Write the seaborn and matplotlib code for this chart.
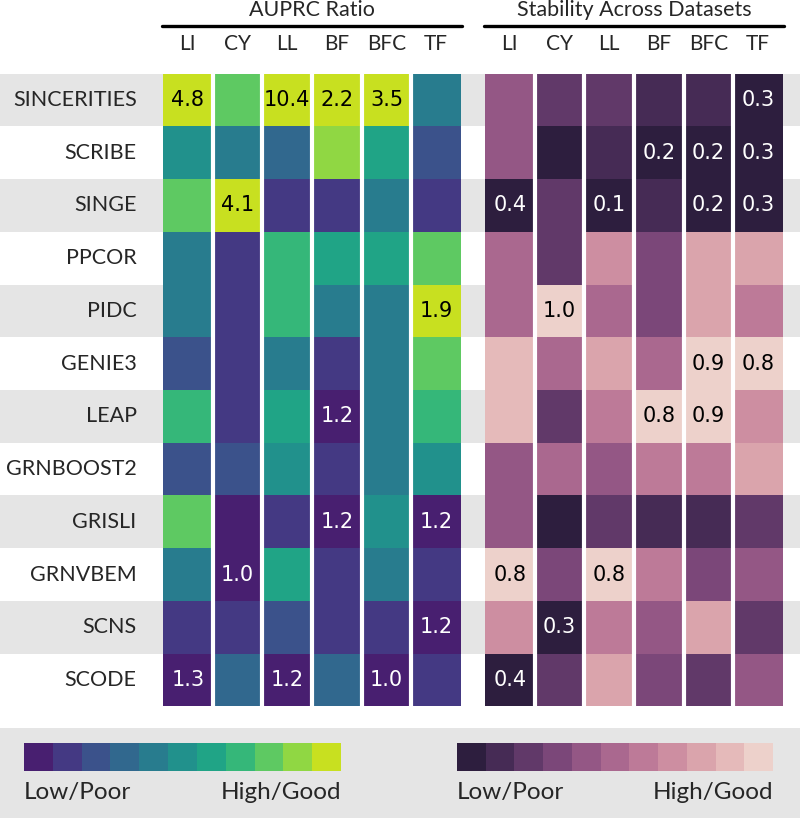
import numpy as np
import pandas as pd
import matplotlib
matplotlib.use("Agg")
import matplotlib.pyplot as plt
from matplotlib.colors import ListedColormap
from matplotlib.patches import Rectangle
from matplotlib.lines import Line2D
import seaborn as sns

sns.set_theme(style="white")
plt.rcParams["font.family"] = ["Lato", "DejaVu Sans"]

algorithms = ["SINCERITIES", "SCRIBE", "SINGE", "PPCOR", "PIDC", "GENIE3",
              "LEAP", "GRNBOOST2", "GRISLI", "GRNVBEM", "SCNS", "SCODE"]
datasets = ["LI", "CY", "LL", "BF", "BFC", "TF"]

# colour level (0 = Low/Poor ... 10 = High/Good) read from each cell
auprc_level = [
    [10, 8, 10, 10, 10, 4],
    [5, 4, 3, 9, 6, 2],
    [8, 10, 1, 1, 4, 1],
    [4, 1, 7, 6, 6, 8],
    [4, 1, 7, 4, 4, 10],
    [2, 1, 4, 1, 4, 8],
    [7, 1, 6, 0, 4, 7],
    [2, 2, 5, 1, 4, 5],
    [8, 0, 1, 0, 5, 0],
    [4, 0, 6, 1, 4, 1],
    [1, 1, 2, 1, 1, 0],
    [0, 3, 0, 3, 0, 1],
]
auprc_text = [
    ["4.8", "", "10.4", "2.2", "3.5", ""],
    ["", "", "", "", "", ""],
    ["", "4.1", "", "", "", ""],
    ["", "", "", "", "", ""],
    ["", "", "", "", "", "1.9"],
    ["", "", "", "", "", ""],
    ["", "", "", "1.2", "", ""],
    ["", "", "", "", "", ""],
    ["", "", "", "1.2", "", "1.2"],
    ["", "1.0", "", "", "", ""],
    ["", "", "", "", "", "1.2"],
    ["1.3", "", "1.2", "", "1.0", ""],
]
stab_level = [
    [4, 2, 2, 1, 1, 0],
    [4, 0, 1, 0, 0, 0],
    [0, 2, 0, 1, 0, 0],
    [5, 2, 7, 3, 8, 8],
    [5, 10, 5, 3, 8, 6],
    [9, 5, 8, 5, 10, 10],
    [9, 2, 6, 10, 10, 7],
    [4, 5, 4, 6, 6, 8],
    [4, 0, 2, 1, 1, 2],
    [10, 3, 10, 6, 3, 4],
    [7, 0, 6, 4, 8, 2],
    [0, 2, 8, 3, 2, 4],
]
stab_text = [
    ["", "", "", "", "", "0.3"],
    ["", "", "", "0.2", "0.2", "0.3"],
    ["0.4", "", "0.1", "", "0.2", "0.3"],
    ["", "", "", "", "", ""],
    ["", "1.0", "", "", "", ""],
    ["", "", "", "", "0.9", "0.8"],
    ["", "", "", "0.8", "0.9", ""],
    ["", "", "", "", "", ""],
    ["", "", "", "", "", ""],
    ["0.8", "", "0.8", "", "", ""],
    ["", "0.3", "", "", "", ""],
    ["0.4", "", "", "", "", ""],
]
titles = ["AUPRC Ratio", "Stability Across Datasets"]
legend_labels = ["Low/Poor", "High/Good"]

pal1 = sns.color_palette("viridis", 11)
pal2 = sns.cubehelix_palette(11, reverse=True)

W, H = 800, 818
fig = plt.figure(figsize=(W / 100, H / 100), dpi=100)

def fx(x):
    return x / W

def fy(y):
    return 1 - y / H

# background bands
bg = fig.add_axes([0, 0, 1, 1], zorder=0)
bg.set_xlim(0, W)
bg.set_ylim(H, 0)
bg.axis("off")
top, bot = 73.6, 706.4
rh = (bot - top) / 12
for i in range(0, 12, 2):
    bg.add_patch(Rectangle((0, top + i * rh), W, rh, color="#e5e5e5", lw=0))
bg.add_patch(Rectangle((0, 728), W, H - 728, color="#e5e5e5", lw=0))

panels = [(163, 461, auprc_level, auprc_text, pal1, titles[0]),
          (485, 783, stab_level, stab_text, pal2, titles[1])]

for k, (x0, x1, lev, txt, pal, title) in enumerate(panels):
    ax = fig.add_axes([fx(x0), fy(bot), fx(x1 - x0), (bot - top) / H], zorder=2)
    df = pd.DataFrame(lev, index=algorithms, columns=datasets)
    sns.heatmap(df, ax=ax, cmap=ListedColormap(pal), vmin=-0.5, vmax=10.5,
                annot=np.array(txt), fmt="", cbar=False,
                annot_kws={"fontsize": 15, "family": "DejaVu Sans"})
    for t in ax.texts:
        if t.get_color() != "w":
            t.set_color("black")
    for j in range(1, len(datasets)):
        ax.axvline(j, color="white", lw=3)
    ax.xaxis.tick_top()
    ax.tick_params(axis="x", length=0, pad=14, labelsize=15)
    ax.set_xticklabels(datasets, rotation=0)
    if k == 0:
        ax.tick_params(axis="y", length=0, pad=19, labelsize=15.5)
        ax.set_yticklabels(algorithms, rotation=0)
    else:
        ax.set_yticks([])
    ax.set_xlabel("")
    ax.set_ylabel("")
    fig.text(fx((x0 + x1) / 2), fy(10), title, ha="center", va="center", fontsize=15.5)
    fig.add_artist(Line2D([fx(x0 - 1), fx(x1 + 1)], [fy(26), fy(26)], color="black", lw=2.4))

# discrete legends
legs = [(24, 341, pal1), (457, 773, pal2)]
for x0, x1, pal in legs:
    cax = fig.add_axes([fx(x0), fy(771), fx(x1 - x0), 28 / H], zorder=2)
    sns.heatmap(np.arange(11).reshape(1, -1), ax=cax, cmap=ListedColormap(pal),
                vmin=-0.5, vmax=10.5, cbar=False, xticklabels=False, yticklabels=False)
    fig.text(fx(x0), fy(799), legend_labels[0], ha="left", va="baseline", fontsize=17.5)
    fig.text(fx(x1), fy(799), legend_labels[1], ha="right", va="baseline", fontsize=17.5)

fig.savefig("out.png", dpi=100)
